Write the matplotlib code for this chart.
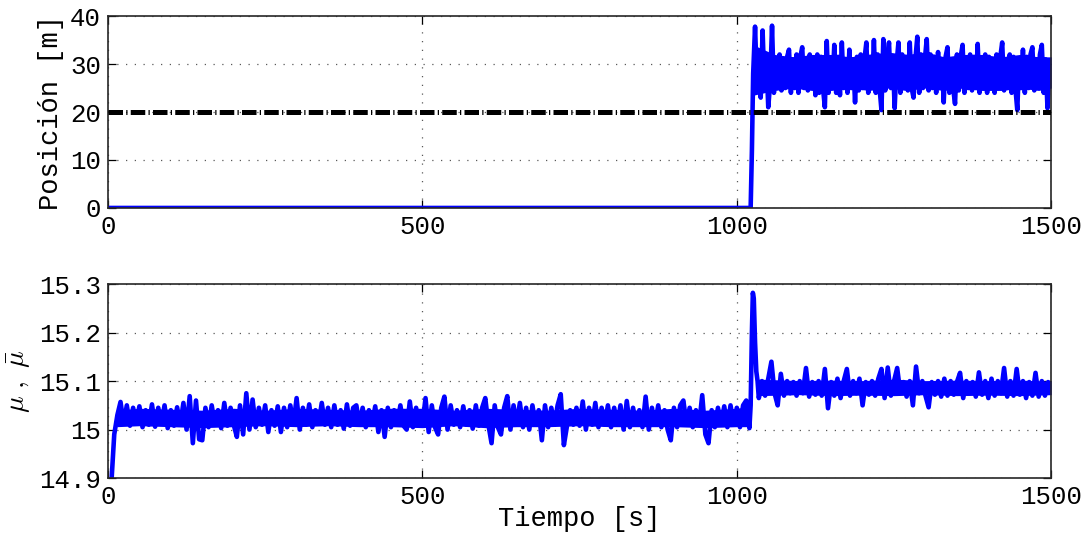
import numpy as np
import matplotlib
matplotlib.use("Agg")
import matplotlib.pyplot as plt

plt.rcParams['font.family'] = ['Liberation Mono', 'DejaVu Sans']
plt.rcParams['mathtext.fontset'] = 'cm'

# ---- data ----
# position: zero until the jump, then a noisy band (one value every 3 s from t=1029)
pos_t_start = [0, 1022, 1024, 1026]
pos_start = [0, 0, 12, 28]
pos_t0, pos_dt = 1029, 3
pos_vals = [
    37.8, 26, 32, 23, 37, 25, 31, 21, 26, 38,
    24, 31, 25, 32, 24.5, 30.5, 25, 31.5, 33, 24,
    31, 25, 32, 24, 31.5, 33.5, 25, 30.5, 24.5, 32,
    25, 31, 23.5, 32, 24, 31.5, 25, 21, 34.8, 24,
    31, 25, 34, 24, 31.5, 23.5, 34.5, 25, 31, 24,
    33, 25, 31, 22, 31.5, 24.5, 32, 25, 31, 34.5,
    24, 31.5, 25, 35, 24, 32, 25, 20.4, 35.2, 24.5,
    31, 34.5, 25, 31.5, 20.8, 30, 34.5, 24, 32, 25,
    31.5, 24.5, 34.5, 25, 23, 31, 35.7, 24, 32, 25,
    31, 35.2, 24.5, 32, 25, 31.5, 24, 32.5, 25, 31,
    22, 31.5, 33.5, 24, 31, 25, 21.7, 32, 24.5, 31.5,
    34, 24, 31, 25, 32, 24.5, 31.5, 25, 34.2, 24,
    31, 25, 32, 24, 31.5, 25.5, 30.5, 24, 32, 25,
    31.5, 34.5, 24.5, 31, 25, 32, 24, 31.5, 25, 20.4,
    31, 25, 33, 24, 31.5, 25, 32, 33.5, 24.5, 31,
    25, 32, 34, 24, 31, 20.8, 30, 28,
]
# solid core of the position band
pos_band_t = [1026, 1060, 1090, 1120, 1150, 1180, 1210, 1240, 1270,
              1300, 1330, 1360, 1390, 1420, 1450, 1480, 1500]
pos_band_lo = [23.5, 24.5, 25, 24.5, 24.5, 25, 24.5, 25, 24.5,
               25, 24.5, 25, 24.5, 24.5, 25, 24.5, 25]
pos_band_hi = [34, 32, 31.5, 32, 32, 31.5, 32, 32.5, 32,
               32.5, 31.5, 32, 32, 31.5, 32, 31.5, 31.5]
ref_t = [0, 1500]
ref_val = [20, 20]

# mu: one value every 5 s from 0 to 1020
mu_dt = 5
mu_a = [
    14.80, 14.88, 14.99, 15.03, 15.057, 15.012, 15.05, 15.008, 15.045, 15.015,
    15.048, 15.005, 15.04, 15.01, 15.052, 15.006, 15.045, 15.012, 15.05, 15.003,
    15.04, 15.008, 15.046, 15.01, 15.055, 15.0, 15.069, 14.972, 15.06, 14.98,
    14.978, 15.045, 15.005, 15.05, 15.01, 15.04, 15.003, 15.055, 15.008, 15.045,
    15.01, 14.985, 15.05, 14.99, 15.075, 15.0, 15.062, 15.005, 15.045, 15.01,
    15.05, 14.995, 15.04, 15.008, 15.048, 14.995, 15.045, 15.005, 15.05, 15.01,
    15.065, 15.0, 15.045, 15.01, 15.052, 15.005, 15.04, 15.012, 15.055, 15.01,
    15.045, 15.005, 15.05, 15.01, 15.04, 15.002, 15.052, 15.008, 15.045, 15.05,
    15.01, 15.045, 15.005, 15.04, 15.01, 15.048, 14.995, 15.04, 14.985, 15.045,
    15.005, 15.04, 15.01, 15.05, 15.008, 15.0, 15.058, 15.005, 15.045, 15.01,
    15.01, 15.065, 14.995, 15.05, 15.005, 14.99, 15.045, 15.068, 15.0, 15.05,
    15.01, 15.04, 15.005, 15.048, 15.01, 15.04, 15.002, 15.05, 15.008, 15.045,
    15.065, 15.01, 14.972, 15.05, 15.005, 14.99, 15.045, 15.069, 15.0, 15.05,
    15.01, 15.055, 15.005, 15.045, 15.0, 15.05, 15.01, 15.04, 14.978, 15.05,
    15.005, 15.045, 15.01, 15.05, 15.073, 14.968, 15.008, 15.04, 15.01, 15.045,
    15.008, 15.058, 15.0, 15.045, 15.01, 15.055, 15.005, 15.045, 15.01, 15.05,
    15.005, 15.045, 15.01, 15.05, 15.0, 15.059, 15.005, 15.045, 15.01, 15.04,
    15.005, 15.068, 15.0, 15.045, 15.01, 15.05, 15.005, 15.04, 15.0, 14.978,
    15.045, 15.005, 15.05, 15.06, 15.01, 15.045, 15.005, 15.04, 15.01, 15.071,
    14.99, 14.972, 15.04, 15.005, 15.045, 15.01, 15.048, 15.005, 15.05, 15.01,
    15.045, 15.005, 15.05, 15.06, 15.003,
]
# the spike after the jump
mu_t_spike = [1022, 1024, 1025.5, 1027, 1029, 1031, 1033]
mu_spike = [15.05, 15.2, 15.282, 15.27, 15.18, 15.12, 15.10]
# one value every 5 s from 1035 to 1500
mu_c = [
    15.065, 15.1, 15.07, 15.105, 15.14, 15.075, 15.05, 15.115, 15.07, 15.1,
    15.075, 15.098, 15.07, 15.1, 15.075, 15.127, 15.068, 15.098, 15.072, 15.1,
    15.07, 15.125, 15.044, 15.098, 15.07, 15.105, 15.065, 15.1, 15.125, 15.07,
    15.1, 15.075, 15.105, 15.05, 15.098, 15.072, 15.1, 15.07, 15.105, 15.125,
    15.065, 15.128, 15.07, 15.1, 15.127, 15.075, 15.098, 15.068, 15.1, 15.05,
    15.13, 15.075, 15.1, 15.07, 15.046, 15.098, 15.072, 15.1, 15.068, 15.105,
    15.07, 15.1, 15.072, 15.098, 15.117, 15.065, 15.1, 15.075, 15.098, 15.068,
    15.118, 15.072, 15.1, 15.065, 15.105, 15.07, 15.1, 15.075, 15.127, 15.068,
    15.1, 15.07, 15.125, 15.072, 15.1, 15.065, 15.098, 15.07, 15.117, 15.068,
    15.1, 15.07, 15.098, 15.085,
]
# solid core of the mu band
mu_band_t = [14, 50, 100, 150, 200, 250, 300, 350, 400, 450, 500, 550, 600,
             650, 700, 750, 800, 850, 900, 950, 1000, 1020]
mu_band_lo = [15.006, 15.008, 15.006, 15.004, 15.006, 15.008, 15.006, 15.008, 15.006,
              15.006, 15.004, 15.008, 15.004, 15.006, 15.006, 15.008, 15.006, 15.006,
              15.006, 15.004, 15.006, 15.006]
mu_band_hi = [15.04, 15.044, 15.042, 15.04, 15.044, 15.04, 15.044, 15.042, 15.04,
              15.044, 15.044, 15.04, 15.044, 15.042, 15.04, 15.044, 15.042, 15.04,
              15.044, 15.04, 15.044, 15.048]
mu_band2_t = [1035, 1100, 1150, 1200, 1250, 1300, 1350, 1400, 1450, 1500]
mu_band2_lo = [15.07, 15.072, 15.07, 15.071, 15.07, 15.072, 15.07, 15.071, 15.07, 15.072]
mu_band2_hi = [15.104, 15.101, 15.102, 15.101, 15.104, 15.101, 15.102, 15.101, 15.102, 15.1]

x_ticks = [0, 500, 1000, 1500]
pos_ticks = [0, 10, 20, 30, 40]
mu_ticks = [14.9, 15.0, 15.1, 15.2, 15.3]
mu_ticklabels = ['14.9', '15', '15.1', '15.2', '15.3']

# ---- build series ----
t_pos = np.concatenate([pos_t_start, pos_t0 + pos_dt * np.arange(len(pos_vals))])
y_pos = np.concatenate([pos_start, pos_vals])
t_mu = np.concatenate([mu_dt * np.arange(len(mu_a)), mu_t_spike,
                       1035 + mu_dt * np.arange(len(mu_c))])
y_mu = np.concatenate([mu_a, mu_spike, mu_c])

fig = plt.figure(figsize=(10.86, 5.36), dpi=100)
ax1 = fig.add_axes([0.0994, 0.612, 0.8686, 0.358])
ax2 = fig.add_axes([0.0994, 0.108, 0.8686, 0.362])

fs = 18.5
blue = '#0000ff'
grid_kw = dict(color='0.35', lw=0.9, ls=(0, (1, 6)))

ax1.plot(ref_t, ref_val, color='k', lw=3.6, ls=(0, (2.9, 0.65, 0.25, 0.65)),
         dash_capstyle='butt', zorder=3)
ax1.fill_between(pos_band_t, pos_band_lo, pos_band_hi, color=blue, lw=0, zorder=2)
ax1.plot(t_pos, y_pos, color=blue, lw=3.3, zorder=2)
ax1.set_xlim(0, 1500)
ax1.set_ylim(0, 40)
ax1.set_xticks(x_ticks)
ax1.set_yticks(pos_ticks)
ax1.set_ylabel('Posición [m]', fontsize=19.5)

ax2.fill_between(mu_band_t, mu_band_lo, mu_band_hi, color=blue, lw=0, zorder=2)
ax2.fill_between(mu_band2_t, mu_band2_lo, mu_band2_hi, color=blue, lw=0, zorder=2)
ax2.plot(t_mu, y_mu, color=blue, lw=3.3, zorder=2)
ax2.set_xlim(0, 1500)
ax2.set_ylim(14.9, 15.3)
ax2.set_xticks(x_ticks)
ax2.set_yticks(mu_ticks)
ax2.set_yticklabels(mu_ticklabels)
ax2.set_xlabel('Tiempo [s]', fontsize=19.5, labelpad=-2)
ax2.set_ylabel(r'$\mu\ ,\ \bar{\mu}$', fontsize=20)

for ax in (ax1, ax2):
    ax.grid(True, **grid_kw)
    ax.tick_params(direction='in', top=True, right=True, length=6, width=0.9,
                   labelsize=fs, pad=5)
    for sp in ax.spines.values():
        sp.set_linewidth(1.2)
        sp.set_color('0.15')

fig.savefig('out.png', dpi=100)
